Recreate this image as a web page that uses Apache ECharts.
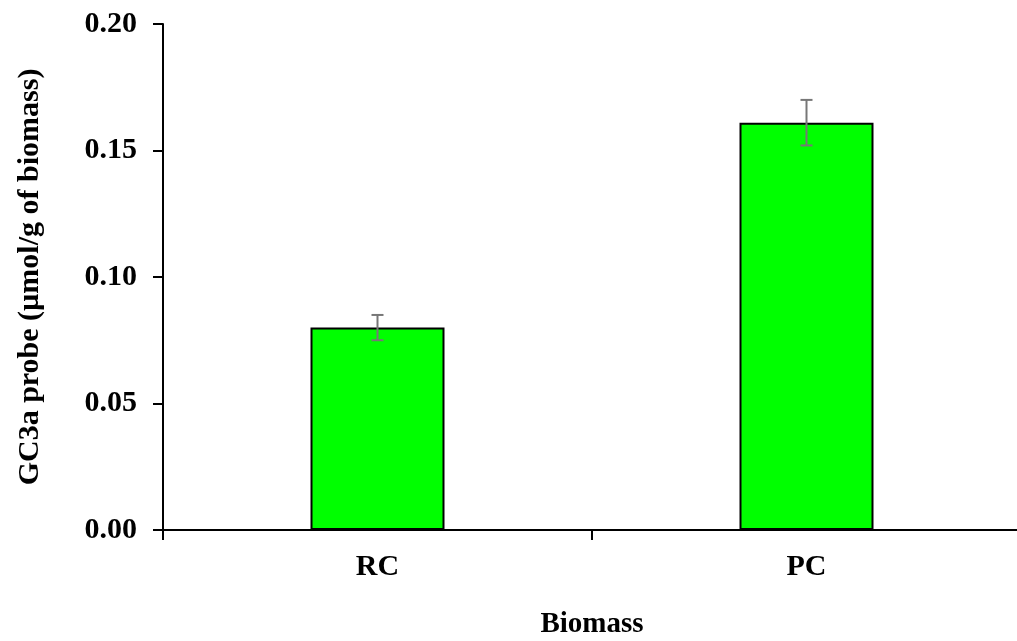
<!DOCTYPE html>
<html>
<head>
<meta charset="utf-8">
<script src="https://cdn.jsdelivr.net/npm/echarts@6/dist/echarts.min.js"></script>
<style>
  html, body { margin: 0; padding: 0; background: #fff; }
  #chart { width: 1017px; height: 641px; }
</style>
</head>
<body>
<div id="chart"></div>
<script>
const categories = ['RC', 'PC']
const values = [0.080, 0.161]
const errors = [0.005, 0.009]
const yTicks = { min: 0, max: 0.20, interval: 0.05 }

const font = 'Liberation Serif, Times New Roman, serif'
const chart = echarts.init(document.getElementById('chart'))

chart.setOption({
  animation: false,
  grid: { left: 163, right: -4, top: 24, bottom: 111, outerBoundsMode: 'none' },
  xAxis: {
    type: 'category',
    data: categories,
    name: 'Biomass',
    nameLocation: 'middle',
    nameGap: 80,
    nameTextStyle: { fontFamily: font, fontWeight: 'bold', fontSize: 29, color: '#000' },
    axisLine: { lineStyle: { color: '#000', width: 2 } },
    axisTick: { show: true, length: 10, lineStyle: { color: '#000', width: 2 } },
    axisLabel: { fontFamily: font, fontWeight: 'bold', fontSize: 30, color: '#000', margin: 22 }
  },
  yAxis: {
    type: 'value',
    min: yTicks.min,
    max: yTicks.max,
    interval: yTicks.interval,
    name: 'GC3a probe (µmol/g of biomass)',
    nameLocation: 'middle',
    nameGap: 118,
    nameTextStyle: { fontFamily: font, fontWeight: 'bold', fontSize: 30, color: '#000' },
    axisLine: { show: true, lineStyle: { color: '#000', width: 2 } },
    axisTick: { show: true, length: 10, lineStyle: { color: '#000', width: 2 } },
    axisLabel: {
      fontFamily: font, fontWeight: 'bold', fontSize: 30, color: '#000', margin: 26,
      formatter: v => v.toFixed(2)
    },
    splitLine: { show: false }
  },
  series: [
    {
      type: 'bar',
      data: values,
      barWidth: 134,
      itemStyle: { color: '#00ff00', borderColor: '#000', borderWidth: 2 }
    },
    {
      type: 'custom',
      data: values.map((v, i) => [i, v - errors[i], v + errors[i]]),
      renderItem: function(params, api) {
        const lo = api.coord([api.value(0), api.value(1)])
        const hi = api.coord([api.value(0), api.value(2)])
        const w = 6
        const style = { stroke: '#777', lineWidth: 2 }
        return {
          type: 'group',
          children: [
            { type: 'line', shape: { x1: hi[0], y1: hi[1], x2: lo[0], y2: lo[1] }, style },
            { type: 'line', shape: { x1: hi[0] - w, y1: hi[1], x2: hi[0] + w, y2: hi[1] }, style },
            { type: 'line', shape: { x1: lo[0] - w, y1: lo[1], x2: lo[0] + w, y2: lo[1] }, style }
          ]
        }
      },
      z: 10
    }
  ]
})
</script>
</body>
</html>
